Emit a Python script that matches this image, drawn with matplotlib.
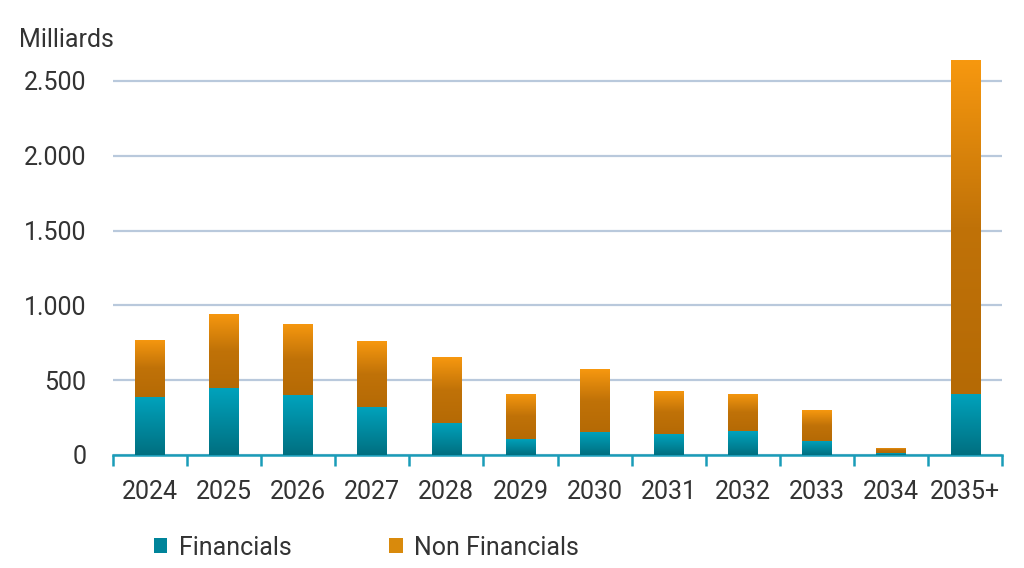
import numpy as np
import matplotlib
matplotlib.use("Agg")
import matplotlib.pyplot as plt
from matplotlib.colors import LinearSegmentedColormap
from matplotlib.patches import Patch

plt.rcParams['font.family'] = ['Roboto', 'DejaVu Sans']

years = ['2024', '2025', '2026', '2027', '2028', '2029', '2030',
         '2031', '2032', '2033', '2034', '2035+']
financials = [388, 448, 401, 321, 214, 107, 154, 140, 160, 94, 10, 408]
non_financials = [381, 495, 475, 441, 441, 301, 421, 288, 248, 207, 37, 2232]

teal_cmap = LinearSegmentedColormap.from_list('teal', ['#006f80', '#00a3bd'])
orange_cmap = LinearSegmentedColormap.from_list('orange', ['#b56a05', '#c07208', '#f7980f'])

fig = plt.figure(figsize=(10.24, 5.68), dpi=100)
ax = fig.add_axes([0.110, 0.199, 0.869, 0.698])

x = np.arange(len(years))
w = 0.4
grad = np.linspace(0, 1, 256).reshape(-1, 1)

b1 = ax.bar(x, financials, width=w, color='none', zorder=3)
b2 = ax.bar(x, non_financials, width=w, bottom=financials, color='none', zorder=3)

for bars, cmap in [(b1, teal_cmap), (b2, orange_cmap)]:
    for rect in bars:
        x0, y0 = rect.get_x(), rect.get_y()
        x1, y1 = x0 + rect.get_width(), y0 + rect.get_height()
        im = ax.imshow(grad, cmap=cmap, origin='lower', aspect='auto',
                       extent=[x0, x1, y0, y1], zorder=3)
        im.set_clip_path(rect)

ax.set_xlim(-0.5, len(years) - 0.5)
ax.set_ylim(0, 2650)
ax.set_yticks([0, 500, 1000, 1500, 2000, 2500])
ax.set_yticklabels(['0', '500', '1.000', '1.500', '2.000', '2.500'])
ax.set_xticks(x)
ax.set_xticklabels(years)
ax.set_xticks(np.arange(-0.5, len(years)), minor=True)

for s in ['top', 'right', 'left']:
    ax.spines[s].set_visible(False)
ax.spines['bottom'].set_color('#1a9cb8')
ax.spines['bottom'].set_linewidth(1.8)

ax.yaxis.grid(True, color='#b9c9dc', linewidth=1.6, zorder=0)
ax.set_axisbelow(True)
ax.tick_params(axis='y', length=0, labelsize=18, labelcolor='#333333', pad=19)
ax.tick_params(axis='x', which='major', length=0, labelsize=18, labelcolor='#333333', pad=18)
ax.tick_params(axis='x', which='minor', length=8, width=1.8, color='#1a9cb8')

fig.text(0.019, 0.93, 'Milliards', fontsize=18, color='#333333', va='center', ha='left')

handles = [Patch(facecolor='#00849a', edgecolor='none', label='Financials'),
           Patch(facecolor='#d98a0c', edgecolor='none', label='Non Financials')]
fig.legend(handles=handles, loc='center left', bbox_to_anchor=(0.128, 0.036),
           ncol=2, frameon=False, fontsize=18, handlelength=0.55, handleheight=0.55,
           handletextpad=0.45, columnspacing=3.9, labelcolor='#333333')

fig.savefig('out.png', dpi=100)
